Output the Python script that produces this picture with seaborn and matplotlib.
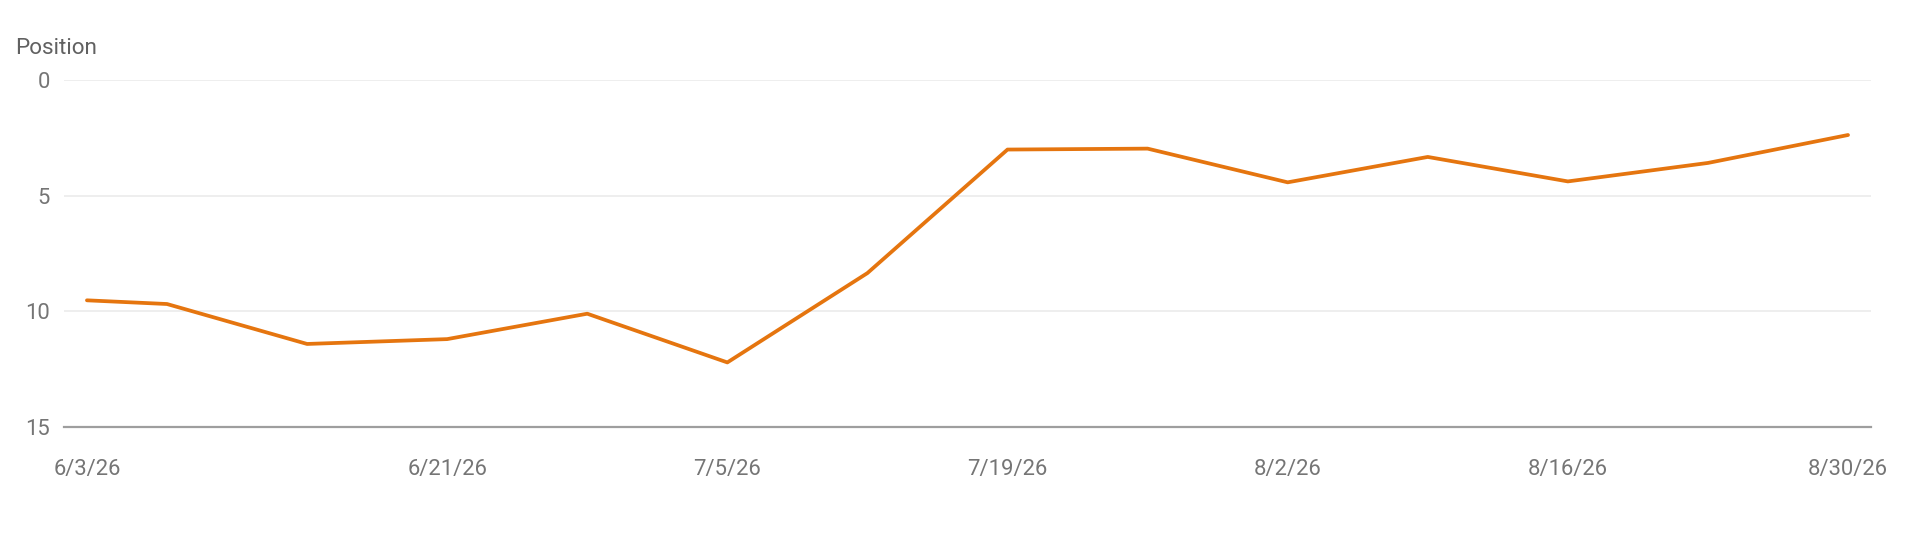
"""
Search position over time (lower is better, so the y axis is inverted).
"""
import seaborn as sns
import matplotlib.pyplot as plt
import matplotlib.dates as mdates
import pandas as pd

sns.set_style('white', {'axes.grid': True,
                        'grid.color': '#ebebeb',
                        'axes.spines.left': False,
                        'axes.spines.right': False,
                        'axes.spines.top': False})
plt.rcParams['font.family'] = ['Roboto', 'DejaVu Sans']

dates = ['2026-06-03', '2026-06-07', '2026-06-14', '2026-06-21', '2026-06-28',
         '2026-07-05', '2026-07-12', '2026-07-19', '2026-07-26', '2026-08-02',
         '2026-08-09', '2026-08-16', '2026-08-23', '2026-08-30']
position = [9.53, 9.69, 11.42, 11.21, 10.11, 12.22, 8.35,
            3.00, 2.96, 4.42, 3.32, 4.38, 3.58, 2.37]
tick_dates = ['2026-06-03', '2026-06-21', '2026-07-05', '2026-07-19',
              '2026-08-02', '2026-08-16', '2026-08-30']

df = pd.DataFrame({'date': pd.to_datetime(dates), 'position': position})

fig = plt.figure(figsize=(19.2, 5.48), dpi=100)
ax = fig.add_axes([0.0333, 0.2215, 0.9412, 0.632])
sns.lineplot(data=df, x='date', y='position', color='#e5750f',
             linewidth=2.7, ax=ax)

ax.set_ylim(15, 0)
ax.set_yticks([0, 5, 10, 15])
pad = pd.Timedelta(days=1.15)
ax.set_xlim(df['date'].min() - pad, df['date'].max() + pad)
ax.set_xticks(pd.to_datetime(tick_dates))
ax.xaxis.set_major_formatter(mdates.DateFormatter('%-m/%-d/%y'))
ax.grid(axis='x', visible=False)
ax.grid(axis='y', linewidth=1.2)

ax.spines['bottom'].set_color('#9e9e9e')
ax.spines['bottom'].set_linewidth(1.6)
ax.tick_params(axis='both', length=0, labelsize=15.8, labelcolor='#757575')
ax.tick_params(axis='x', pad=23)
ax.tick_params(axis='y', pad=10)
ax.set(xlabel='', ylabel='')
fig.text(0.008, 0.912, 'Position', fontsize=16.2, color='#616161',
         ha='left', va='center')

fig.savefig('out.png', dpi=100)
